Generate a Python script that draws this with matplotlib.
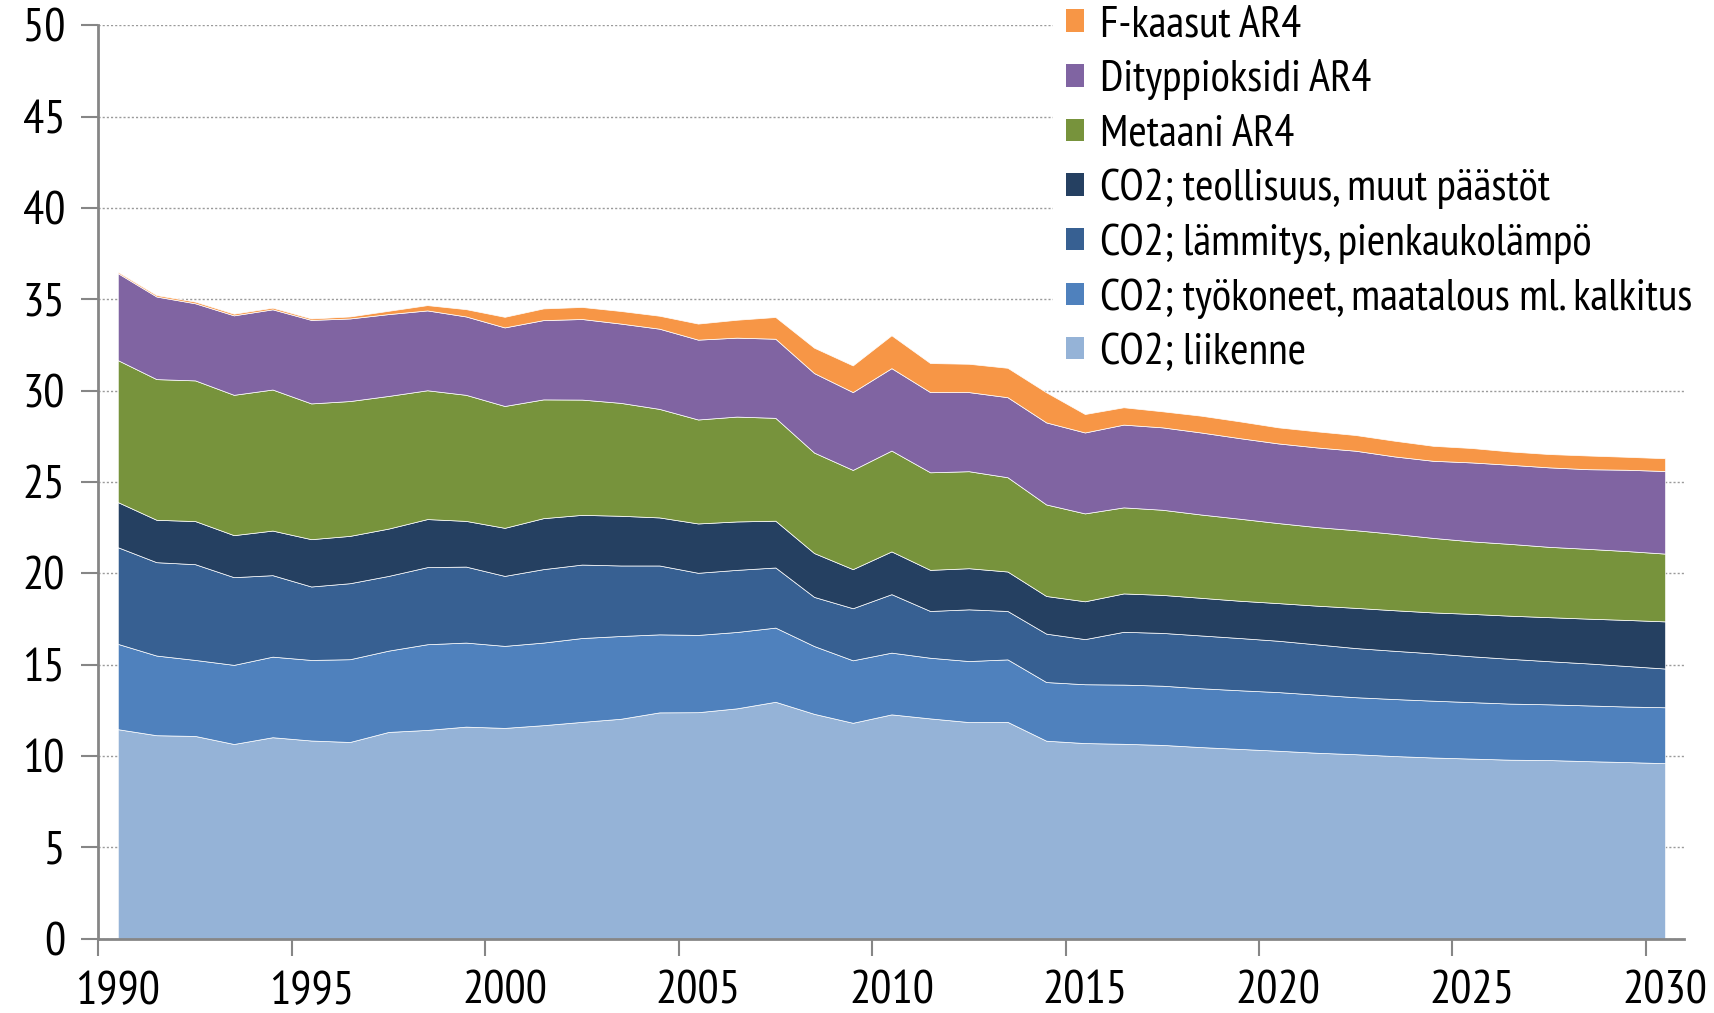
import matplotlib
matplotlib.use("Agg")
import matplotlib.pyplot as plt
from matplotlib.patches import Patch
from matplotlib.ticker import FixedLocator, NullFormatter

plt.rcParams['font.family'] = ['PT Sans Narrow', 'Fira Sans Condensed', 'Asap Condensed',
                               'Sofia Sans Condensed', 'DejaVu Sans']

# Years 1990..2030
years = list(range(1990, 2031))

# Emissions by source (Mt CO2-ekv)
liikenne = [11.47, 11.14, 11.10, 10.66, 11.03, 10.85, 10.77, 11.32, 11.43, 11.61,
            11.54, 11.69, 11.87, 12.04, 12.39, 12.40, 12.61, 12.97, 12.31, 11.82,
            12.28, 12.06, 11.86, 11.87, 10.84, 10.71, 10.67, 10.61, 10.49, 10.39,
            10.29, 10.18, 10.10, 10.00, 9.92, 9.86, 9.80, 9.78, 9.72, 9.67, 9.61]
tyokoneet = [4.67, 4.36, 4.16, 4.33, 4.41, 4.41, 4.53, 4.45, 4.69, 4.60,
             4.49, 4.52, 4.59, 4.53, 4.27, 4.23, 4.18, 4.06, 3.71, 3.42,
             3.38, 3.32, 3.34, 3.42, 3.21, 3.22, 3.24, 3.24, 3.22, 3.21,
             3.21, 3.18, 3.12, 3.12, 3.11, 3.09, 3.07, 3.05, 3.05, 3.04, 3.06]
lammitys = [5.29, 5.11, 5.24, 4.80, 4.46, 4.02, 4.16, 4.09, 4.22, 4.16,
            3.83, 4.02, 4.02, 3.86, 3.77, 3.40, 3.40, 3.29, 2.69, 2.85,
            3.20, 2.56, 2.83, 2.65, 2.65, 2.47, 2.89, 2.89, 2.89, 2.86,
            2.81, 2.75, 2.69, 2.64, 2.59, 2.51, 2.45, 2.36, 2.30, 2.22, 2.12]
teollisuus = [2.47, 2.32, 2.36, 2.30, 2.44, 2.59, 2.59, 2.59, 2.63, 2.50,
              2.63, 2.79, 2.72, 2.72, 2.63, 2.70, 2.65, 2.56, 2.40, 2.14,
              2.34, 2.25, 2.25, 2.16, 2.06, 2.07, 2.10, 2.08, 2.06, 2.04,
              2.06, 2.12, 2.20, 2.22, 2.24, 2.32, 2.36, 2.41, 2.45, 2.52, 2.58]
metaani = [7.77, 7.70, 7.70, 7.68, 7.72, 7.43, 7.38, 7.26, 7.05, 6.90,
           6.67, 6.50, 6.31, 6.18, 5.94, 5.69, 5.74, 5.63, 5.50, 5.43,
           5.52, 5.34, 5.31, 5.16, 5.01, 4.81, 4.71, 4.66, 4.56, 4.49,
           4.38, 4.30, 4.25, 4.18, 4.08, 3.97, 3.93, 3.85, 3.82, 3.77, 3.71]
dityppioksidi = [4.76, 4.52, 4.22, 4.35, 4.39, 4.57, 4.52, 4.48, 4.37, 4.29,
                 4.30, 4.34, 4.41, 4.34, 4.39, 4.37, 4.32, 4.33, 4.35, 4.26,
                 4.51, 4.39, 4.33, 4.38, 4.49, 4.43, 4.53, 4.51, 4.49, 4.41,
                 4.36, 4.36, 4.35, 4.24, 4.22, 4.32, 4.33, 4.35, 4.36, 4.45, 4.52]
fkaasut = [0.07, 0.08, 0.09, 0.09, 0.09, 0.08, 0.11, 0.18, 0.29, 0.40,
           0.58, 0.64, 0.66, 0.69, 0.71, 0.88, 0.98, 1.19, 1.39, 1.46,
           1.80, 1.59, 1.55, 1.61, 1.65, 1.01, 0.95, 0.88, 0.92, 0.92,
           0.88, 0.88, 0.86, 0.86, 0.82, 0.79, 0.73, 0.73, 0.75, 0.71, 0.70]

labels = ['CO2; liikenne',
          'CO2; työkoneet, maatalous ml. kalkitus',
          'CO2; lämmitys, pienkaukolämpö',
          'CO2; teollisuus, muut päästöt',
          'Metaani AR4',
          'Dityppioksidi AR4',
          'F-kaasut AR4']
colors = ['#95B3D7', '#4F81BD', '#376092', '#254061', '#77933C', '#8064A2', '#F79646']

x = list(range(len(years)))

fig = plt.figure(figsize=(17.15, 10.13), dpi=100)
ax = fig.add_axes([0.0574, 0.0733, 0.9248, 0.9018])

ax.stackplot(x, liikenne, tyokoneet, lammitys, teollisuus, metaani,
             dityppioksidi, fkaasut, colors=colors,
             edgecolor='white', linewidth=0.5)

ax.set_xlim(-0.5, 40.5)
ax.set_ylim(0, 50)
ax.set_axisbelow(True)

# y axis
ax.set_yticks(range(0, 51, 5))
ax.yaxis.grid(True, linestyle=(0, (1.5, 1.5)), color='#9A9A9A', linewidth=1.0)
ax.tick_params(axis='y', direction='out', length=12, width=1.5, color='#868686',
               labelsize=34, pad=12)

# x axis: ticks on category boundaries, labels centered on categories
ax.xaxis.set_major_locator(FixedLocator([i - 0.5 for i in range(0, 41, 5)]))
ax.xaxis.set_major_formatter(NullFormatter())
ax.set_xticks(list(range(0, 41, 5)), minor=True)
ax.set_xticklabels([str(years[i]) for i in range(0, 41, 5)], minor=True)
ax.tick_params(axis='x', which='major', direction='out', length=12, width=1.5,
               color='#868686')
ax.tick_params(axis='x', which='minor', length=0, labelsize=34, pad=23)

for s in ['top', 'right']:
    ax.spines[s].set_visible(False)
for s in ['left', 'bottom']:
    ax.spines[s].set_color('#868686')
    ax.spines[s].set_linewidth(2)

handles = [Patch(facecolor=c, edgecolor='none') for c in colors][::-1]
leg = fig.legend(handles, labels[::-1], loc='upper left',
                 bbox_to_anchor=(0.614, 1.008), fontsize=32,
                 frameon=True, facecolor='white', edgecolor='none', framealpha=1,
                 handlelength=0.4, handleheight=0.4, handletextpad=0.35,
                 labelspacing=0.32, borderpad=0.3, borderaxespad=0)

fig.savefig('out.png', dpi=100)
